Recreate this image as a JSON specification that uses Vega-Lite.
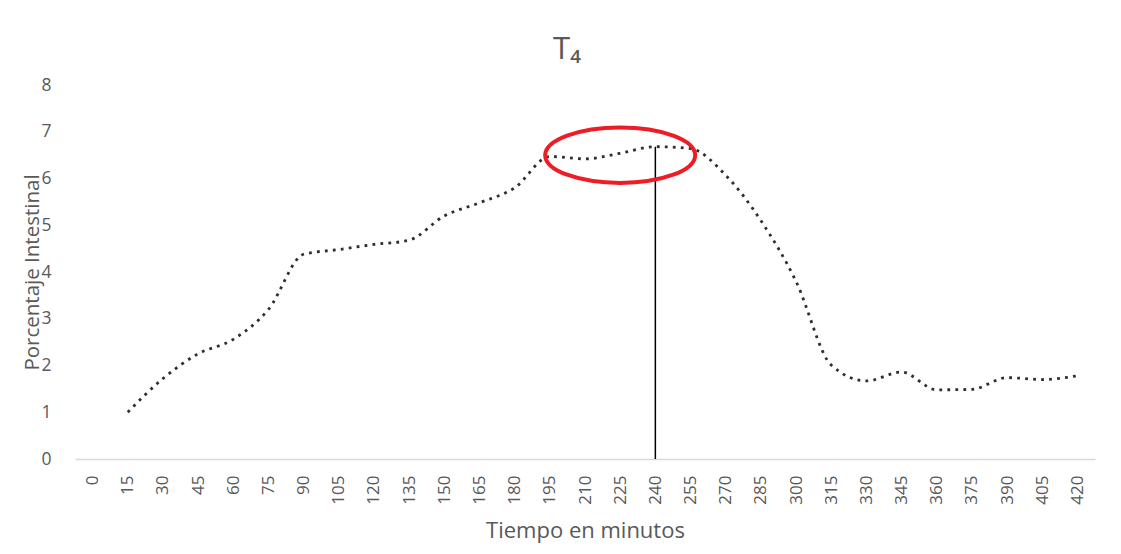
{
  "$schema": "https://vega.github.io/schema/vega-lite/v6.json",
  "autosize": {"type": "none"},
  "width": 1020,
  "height": 374,
  "padding": {"left": 75, "top": 85, "right": 26, "bottom": 95},
  "background": "white",
  "config": {
    "view": {"stroke": null},
    "font": "Open Sans",
    "axis": {"labelColor": "#595959", "titleColor": "#595959", "titleFontWeight": "normal", "grid": false, "ticks": false}
  },
  "title": {"text": "T₄", "fontSize": 31, "fontWeight": "normal", "color": "#595959", "offset": 10, "dx": -18, "font": "Open Sans"},
  "datasets": {
    "serie": [
      {"t": 15, "p": 1.0},
      {"t": 30, "p": 1.72},
      {"t": 45, "p": 2.25},
      {"t": 60, "p": 2.56},
      {"t": 75, "p": 3.2},
      {"t": 90, "p": 4.38},
      {"t": 105, "p": 4.48},
      {"t": 120, "p": 4.59},
      {"t": 135, "p": 4.68},
      {"t": 150, "p": 5.2},
      {"t": 165, "p": 5.48},
      {"t": 180, "p": 5.8},
      {"t": 195, "p": 6.47},
      {"t": 210, "p": 6.42},
      {"t": 225, "p": 6.54},
      {"t": 240, "p": 6.68},
      {"t": 255, "p": 6.64},
      {"t": 270, "p": 6.07},
      {"t": 285, "p": 5.1},
      {"t": 300, "p": 3.8},
      {"t": 315, "p": 2.01},
      {"t": 330, "p": 1.67},
      {"t": 345, "p": 1.86},
      {"t": 360, "p": 1.48},
      {"t": 375, "p": 1.49},
      {"t": 390, "p": 1.74},
      {"t": 405, "p": 1.7},
      {"t": 420, "p": 1.78}
    ],
    "marca": [{"t": 240, "p": 6.68}],
    "circulo": [{"t": 225, "p": 6.5}]
  },
  "encoding": {
    "x": {
      "field": "t", "type": "ordinal",
      "scale": {"domain": [0,15,30,45,60,75,90,105,120,135,150,165,180,195,210,225,240,255,270,285,300,315,330,345,360,375,390,405,420], "type": "point", "padding": 0.5},
      "axis": {"title": "Tiempo en minutos", "labelAngle": -90, "labelAlign": "right", "labelBaseline": "middle", "labelFontSize": 17, "labelPadding": 16, "titleFontSize": 22, "titlePadding": 16, "domainColor": "#d9d9d9", "domainWidth": 1.5}
    },
    "y": {
      "field": "p", "type": "quantitative",
      "scale": {"domain": [0, 8]},
      "axis": {"title": "Porcentaje Intestinal", "values": [0,1,2,3,4,5,6,7,8], "domain": false, "labelFontSize": 17.5, "labelPadding": 24, "titleFontSize": 20.5, "titlePadding": -2}
    }
  },
  "layer": [
    {
      "data": {"name": "serie"},
      "mark": {"type": "line", "interpolate": "monotone", "color": "#2e2e2e", "strokeWidth": 2.8, "strokeDash": [2.8, 5.2]}
    },
    {
      "data": {"name": "marca"},
      "mark": {"type": "rule", "color": "#000000", "strokeWidth": 1.5},
      "encoding": {"y2": {"datum": 0}}
    },
    {
      "data": {"name": "circulo"},
      "mark": {"type": "point", "shape": "M -1 0 A 1 0.37 0 1 0 1 0 A 1 0.37 0 1 0 -1 0 Z", "size": 22500, "filled": false, "stroke": "#ee1c25", "strokeWidth": 4, "opacity": 1}
    }
  ]
}
